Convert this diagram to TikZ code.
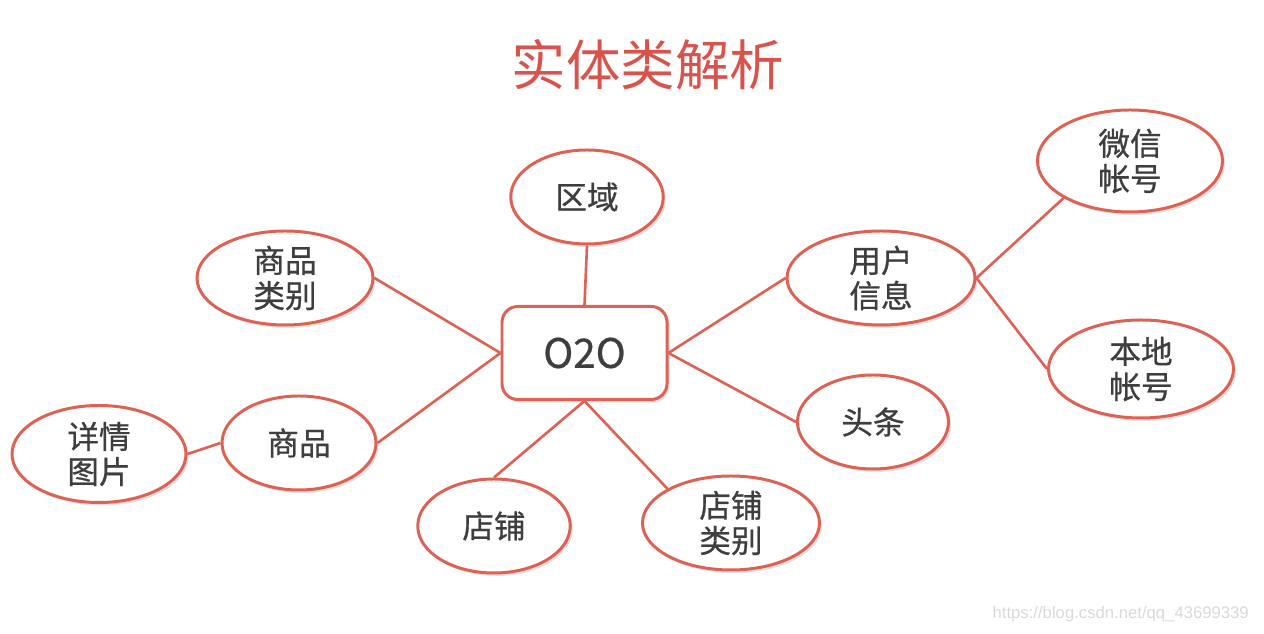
\documentclass[tikz,border=0pt]{standalone}
\usepackage{fontspec}
\setmainfont{Noto Sans CJK SC}
\newfontfamily\entfont[FakeBold=0.7]{Noto Sans CJK SC}
\newfontfamily\markfont{Liberation Sans}
\usepackage{tikz}
\usetikzlibrary{shapes.geometric,shadows}
\usepackage{xcolor}
\definecolor{entred}{RGB}{222,98,84}
\definecolor{titlered}{RGB}{217,83,77}
\definecolor{entgray}{RGB}{62,62,62}
\tikzset{
    entity/.style={
        ellipse,draw=entred,line width=1.7pt,fill=white,
        align=center,text=entgray,font=\entfont\fontsize{18}{20}\selectfont,
        minimum width=#1,minimum height=1.88cm,inner sep=0pt,
        drop shadow={shadow xshift=0.5mm,shadow yshift=-0.6mm,opacity=0.25}
    },
    entity/.default=3.05cm,
    hub/.style={
        draw=entred,line width=1.7pt,rounded corners=9pt,fill=white,
        text=entgray,font=\entfont\fontsize{23}{26}\selectfont,
        minimum width=3.3cm,minimum height=1.86cm,
        drop shadow={shadow xshift=0.5mm,shadow yshift=-0.6mm,opacity=0.25}
    },
    link/.style={
        draw=entred,line width=1.5pt
    }
}

\begin{document}
\begin{tikzpicture}

\useasboundingbox (0,0) rectangle (25.28,12.68);

\node[text=titlered,font=\fontsize{31}{34}\selectfont] (title) at (12.96,11.38) {实体类解析};

% centre
\node[hub] (o2o) at (11.69,5.62) {O2O};

% entities round the centre
\node[entity] (quyu) at (11.74,8.74) {区域};
\node[entity=3.52cm] (splb) at (5.7,7.12) {商品\\类别};
\node[entity=3.08cm] (sp) at (5.98,3.82) {商品};
\node[entity=3.48cm,minimum height=1.94cm] (xqtp) at (1.98,3.6) {详情\\图片};
\node[entity] (dp) at (9.88,2.16) {店铺};
\node[entity=3.54cm] (dplb) at (14.62,2.22) {店铺\\类别};
\node[entity=3.02cm] (tt) at (17.46,4.24) {头条};
\node[entity=3.76cm] (yhxx) at (17.62,7.12) {用户\\信息};
\node[entity=3.7cm,minimum height=2.04cm] (wxzh) at (22.6,9.46) {微信\\帐号};
\node[entity=3.7cm,minimum height=1.96cm] (bdzh) at (22.82,5.3) {本地\\帐号};

% connectors
\draw[link] (quyu.south) -- (o2o.north);
\draw[link] (splb.east) -- (o2o.west);
\draw[link] (sp.east) -- (o2o.west);
\draw[link] (xqtp.east) -- (sp.west);
\draw[link] (dp.north) -- (o2o.south);
\draw[link] (dplb.north west) -- (o2o.south);
\draw[link] (tt.west) -- (o2o.east);
\draw[link] (yhxx.west) -- (o2o.east);
\draw[link] (yhxx.east) -- (wxzh.south west);
\draw[link] (yhxx.east) -- (bdzh.west);

\node[text=black!15,font=\markfont\fontsize{9.5}{11}\selectfont,anchor=east] (mark) at (25.1,0.4) {https://blog.csdn.net/qq\_43699339};

\end{tikzpicture}
\end{document}
